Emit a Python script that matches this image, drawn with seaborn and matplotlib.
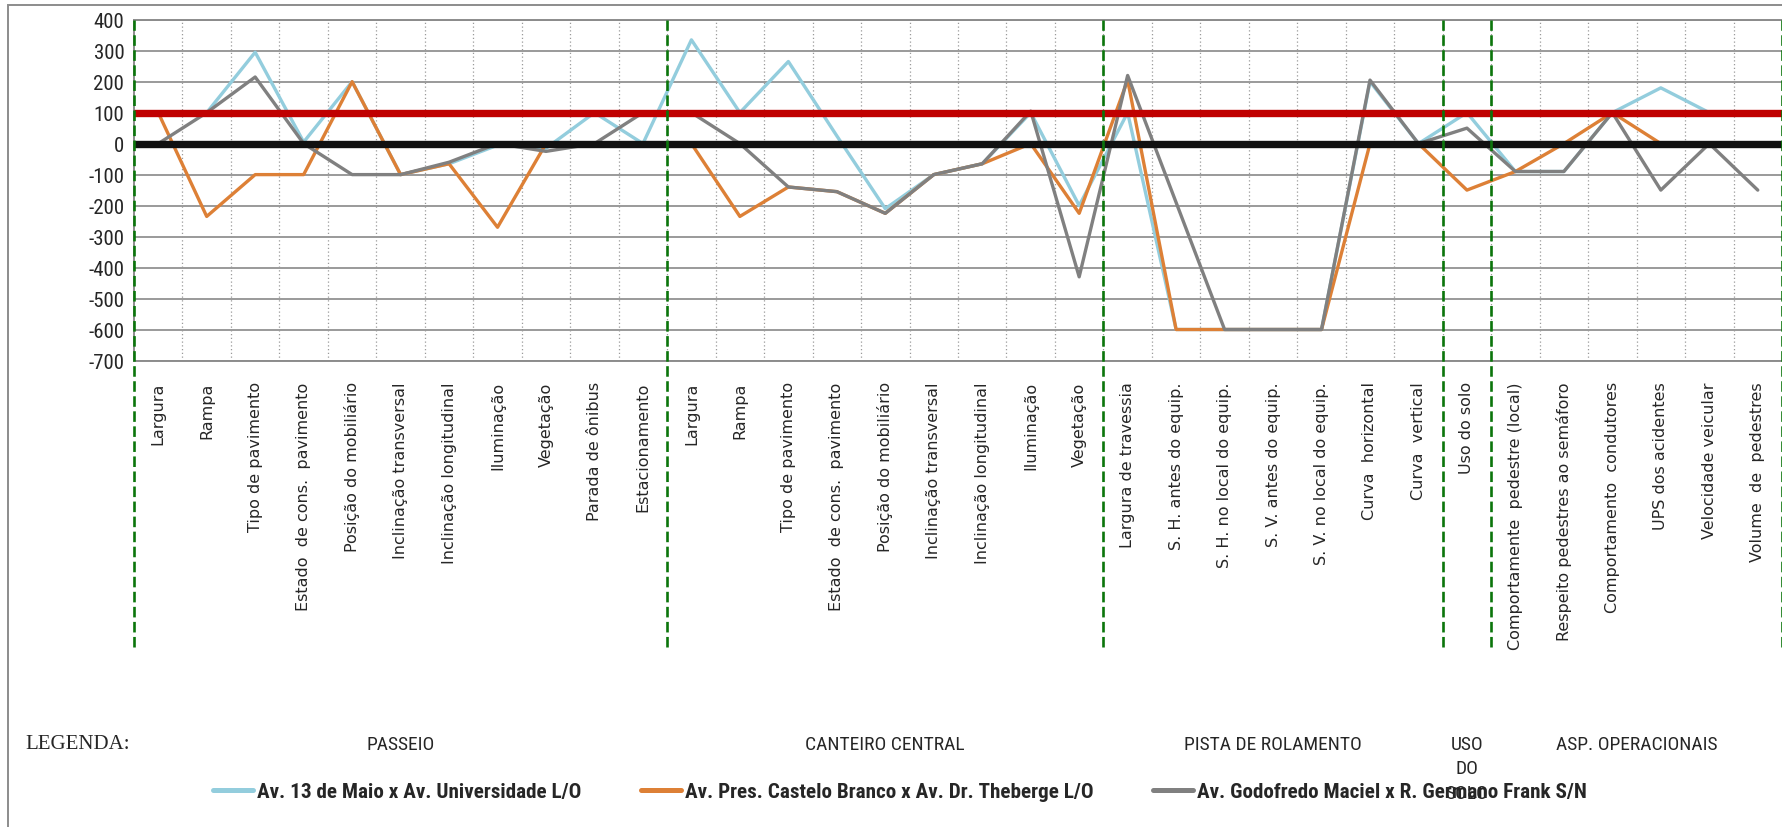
import matplotlib
matplotlib.use("Agg")
import numpy as np
import pandas as pd
import matplotlib.pyplot as plt
import matplotlib.transforms as mtransforms
from matplotlib import font_manager as fm
from matplotlib.lines import Line2D
from matplotlib.patches import Rectangle
import seaborn as sns

# ---- categories (grouped by section) ----
passeio_items = ["Largura", "Rampa", "Tipo de pavimento", "Estado  de cons.  pavimento",
                 "Posição do mobiliário", "Inclinação transversal", "Inclinação longitudinal",
                 "Iluminação", "Vegetação", "Parada de ônibus", "Estacionamento"]
canteiro_items = ["Largura", "Rampa", "Tipo de pavimento", "Estado  de cons.  pavimento",
                  "Posição do mobiliário", "Inclinação transversal", "Inclinação longitudinal",
                  "Iluminação", "Vegetação"]
pista_items = ["Largura de travessia", "S. H. antes do equip.", "S. H. no local do equip.",
               "S. V. antes do equip.", "S. V. no local do equip.", "Curva  horizontal",
               "Curva  vertical"]
uso_items = ["Uso do solo"]
asp_items = ["Comportamente  pedestre (local)", "Respeito pedestres ao semáforo",
             "Comportamento  condutores", "UPS dos acidentes", "Velocidade veicular",
             "Volume  de  pedestres"]
section_names = ["PASSEIO", "CANTEIRO CENTRAL", "PISTA DE ROLAMENTO", "USO\nDO\nSOLO",
                 "ASP. OPERACIONAIS"]

# ---- series values (one per category, in the order above) ----
series_names = ["Av. 13 de Maio x Av. Universidade L/O",
                "Av. Pres. Castelo Branco x Av. Dr. Theberge L/O",
                "Av. Godofredo Maciel x R. Germano Frank S/N"]
av_13_maio = [100, 100, 295, 5, 200, -100, -65, -5, -15, 100, 0,
              335, 100, 265, 25, -210, -100, -65, 100, -200,
              100, -600, -600, -600, -600, 200, 0,
              100,
              -90, -90, 100, 180, 100, 100]
av_castelo_branco = [100, -235, -100, -100, 200, -100, -65, -270, 0, 0, 0,
                     0, -235, -140, -155, -225, -100, -65, 0, -225,
                     205, -600, -600, -600, -600, 0, 0,
                     -150,
                     -90, 0, 100, 0, 0, 0]
av_godofredo = [0, 100, 215, 0, -100, -100, -60, 0, -25, 0, 100,
                100, 0, -140, -155, -225, -100, -65, 105, -430,
                220, -190, -600, -600, -600, 205, 0,
                50,
                -90, -90, 100, -150, 0, -150]
reference_level = 100
zero_level = 0
y_ticks = list(range(-700, 500, 100))

series_colors = ["#93CDDD", "#DD8036", "#808080"]

# ---- fonts ----
available = {f.name for f in fm.fontManager.ttflist}


def pick(*names):
    for n in names:
        if n in available:
            return n
    return "DejaVu Sans"


narrow = pick("Liberation Sans Narrow", "Roboto Condensed", "Open Sans Condensed",
              "Liberation Sans")
serif = pick("Liberation Serif", "DejaVu Serif")
wide = pick("DejaVu Sans")

sns.set_style("white")
plt.rcParams["font.family"] = [narrow, "DejaVu Sans"]

# ---- data frame ----
groups = [passeio_items, canteiro_items, pista_items, uso_items, asp_items]
categories = [c for g in groups for c in g]
pos = np.arange(len(categories))
df = pd.DataFrame({
    "pos": np.tile(pos, 3),
    "valor": np.concatenate([av_13_maio, av_castelo_branco, av_godofredo]),
    "serie": np.repeat(series_names, len(pos)),
})

W, H = 1782, 828
fig = plt.figure(figsize=(W / 100, H / 100), dpi=100)
ax_top, ax_bot, ax_left = 20.7, 361.5, 134
ax = fig.add_axes([ax_left / W, 1 - ax_bot / H, (W - ax_left) / W, (ax_bot - ax_top) / H])

sns.lineplot(data=df, x="pos", y="valor", hue="serie", hue_order=series_names,
             palette=series_colors, linewidth=2.4, estimator=None, sort=False,
             legend=False, ax=ax)

# reference levels
ax.axhline(reference_level, color="#C00000", lw=5.3, zorder=5, solid_capstyle="butt")
ax.axhline(zero_level, color="#111111", lw=5.3, zorder=5, solid_capstyle="butt")

ax.set_xlim(-0.5, len(categories) - 0.5)
ax.set_ylim(min(y_ticks), max(y_ticks))
ax.set_yticks(y_ticks)
ax.set_yticklabels([str(v) for v in y_ticks], fontsize=15, family=[narrow, "DejaVu Sans"])
ax.set_xticks(pos)
ax.set_xticklabels(categories, rotation=90, fontsize=11.5, family=wide, va="top")
ax.set_xticks(np.arange(0.5, len(categories) - 1, 1), minor=True)
ax.set_xlabel("")
ax.set_ylabel("")

ax.grid(axis="y", which="major", color="#9a9a9a", lw=1.4, ls="-")
ax.grid(axis="x", which="minor", color="#9a9a9a", lw=0.9, ls=(0, (1, 2)))
ax.grid(axis="x", which="major", visible=False)
ax.tick_params(axis="x", which="both", length=0, pad=15)
ax.tick_params(axis="y", which="major", length=4, color="#8c8c8c", width=1.2, pad=3)
for side in ["left", "bottom", "top"]:
    ax.spines[side].set_visible(True)
    ax.spines[side].set_color("#8c8c8c")
    ax.spines[side].set_linewidth(1.4)
ax.spines["right"].set_visible(False)

# section dividers
bounds = np.cumsum([0] + [len(g) for g in groups]) - 0.5
green_bottom = ((H - 648) / H - (1 - ax_bot / H)) / ((ax_bot - ax_top) / H)
ax.vlines(bounds, green_bottom, 1.0, transform=ax.get_xaxis_transform(), clip_on=False,
          colors="#0B750B", linestyles=(0, (4, 1.7)), lw=1.9, zorder=6)

# section titles
blend = mtransforms.blended_transform_factory(ax.transData, fig.transFigure)
for name, a, b in zip(section_names, bounds[:-1], bounds[1:]):
    ax.text((a + b) / 2, 1 - 736 / H, name, transform=blend, ha="center", va="top",
            fontsize=14, linespacing=1.45, family=[narrow, "DejaVu Sans"])
fig.text(25 / W, 1 - 745 / H, "LEGENDA:", family=serif, fontsize=15, va="center", ha="left")

# legend
handles = [Line2D([], [], color=c, lw=3.6) for c in series_colors]
fig.legend(handles, series_names, loc="center", bbox_to_anchor=(0.505, 1 - 793 / H),
           ncol=3, frameon=False, handlelength=1.9, handletextpad=0.2, columnspacing=2.8,
           prop={"family": [narrow, "DejaVu Sans"], "weight": "bold", "size": 15.2})

# chart border
fig.add_artist(Rectangle((8 / W, -0.05), 1.1, 1.05 - 6 / H, transform=fig.transFigure,
                         fill=False, ec="#8c8c8c", lw=1.4))

fig.savefig("out.png", dpi=100)
